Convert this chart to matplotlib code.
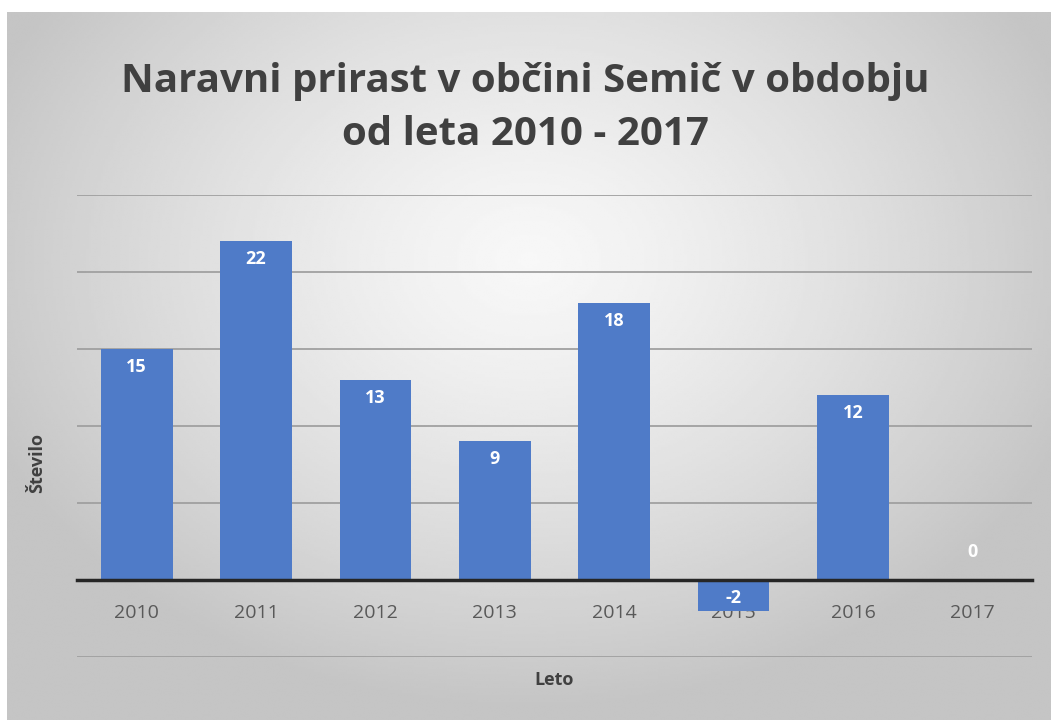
import numpy as np
import matplotlib.pyplot as plt

# -------------------------
# Data
# -------------------------
years = ["2010", "2011", "2012", "2013", "2014", "2015", "2016", "2017"]
values = [15, 22, 13, 9, 18, -2, 12, 0]

TITLE = "Naravni prirast v občini Semič v obdobju\nod leta 2010 - 2017"
BAR_COLOR = "#4f7bc8"
TEXT_GREY = "#595959"

plt.rcParams["font.family"] = ["Open Sans", "DejaVu Sans"]

fig = plt.figure(figsize=(10.51, 7.2), dpi=100, facecolor="white")

# radial grey gradient background (white border on top / left like the screenshot)
bg = fig.add_axes([7 / 1051, 0, 1 - 7 / 1051, 1 - 12 / 720], zorder=-10)
yy, xx = np.mgrid[0:1:300j, 0:1:440j]
r = np.sqrt(((xx - 0.5) / 0.75) ** 2 + ((yy - 0.35) / 0.85) ** 2)
shade = 0.97 - 0.20 * np.clip(r / 0.75, 0, 1) ** 1.3
bg.imshow(shade, cmap="gray", vmin=0, vmax=1, aspect="auto",
          extent=[0, 1, 1, 0], interpolation="bilinear")
bg.axis("off")

ax = fig.add_axes([77 / 1051, 1 - 657 / 720, (1032 - 77) / 1051, (657 - 195) / 720])
ax.set_facecolor("none")

# move the x axis to zero first (this resets tick settings)
for side in ["top", "right", "left"]:
    ax.spines[side].set_visible(False)
ax.spines["bottom"].set_position(("data", 0))
ax.spines["bottom"].set_color("#262626")
ax.spines["bottom"].set_linewidth(2.5)
ax.spines["bottom"].set_zorder(4)

x = np.arange(len(years))
ax.bar(x, values, width=0.6, color=BAR_COLOR, zorder=3)

ax.set_xlim(-0.5, len(years) - 0.5)
ax.set_ylim(-5, 25)
ax.set_yticks(range(-5, 26, 5))
ax.yaxis.grid(True, color="#a0a0a0", linewidth=1.3, zorder=0)
ax.tick_params(axis="y", left=False, labelleft=False)

ax.set_xticks(x)
ax.set_xticklabels(years)
ax.tick_params(axis="x", bottom=False, pad=14, labelsize=14, labelcolor=TEXT_GREY)
for lbl in ax.get_xticklabels():
    lbl.set_zorder(5)

# data labels
for xi, v in zip(x, values):
    if v > 0:
        off = -13
    elif v < 0:
        off = 9
    else:
        off = 20
    ax.annotate(str(v), (xi, v), xytext=(0, off), textcoords="offset points",
                ha="center", va="center", color="white", fontsize=13,
                fontweight="bold", zorder=6)

ax.set_ylabel("Število", fontsize=13, fontweight="bold", color="#404040")
ax.yaxis.set_label_coords(-0.032, 0.42)

fig.text(554 / 1051, 1 - 680 / 720, "Leto", ha="center", va="center",
         fontsize=13, fontweight="bold", color="#404040")

fig.text(0.5, 1 - 108 / 720, TITLE, ha="center", va="center", fontsize=29,
         fontweight="bold", color="#404040", linespacing=1.45)

fig.savefig("out.png", dpi=100)
